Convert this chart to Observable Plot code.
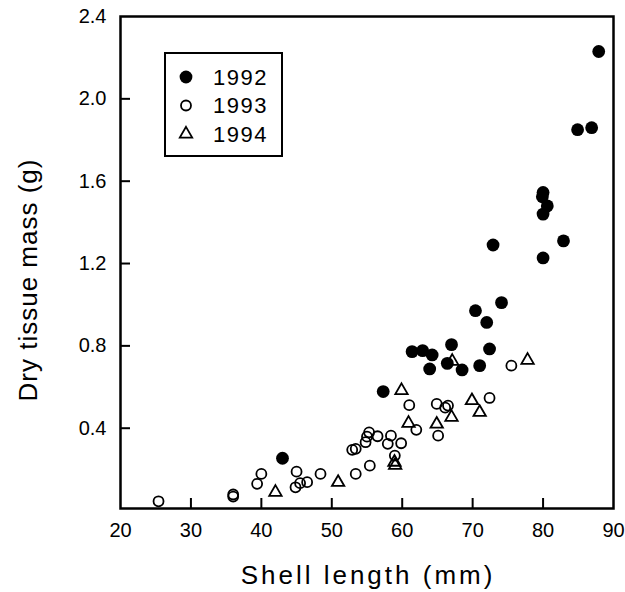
<!DOCTYPE html>
<html><head><meta charset="utf-8">
<script src="https://cdn.jsdelivr.net/npm/d3@7"></script>
<script src="https://cdn.jsdelivr.net/npm/@observablehq/plot@0.6"></script>
<style>
body{margin:0;background:#fff;}
#chart{position:relative;width:625px;height:592px;}
svg{font-family:"Liberation Sans",Arial,sans-serif;}
</style></head><body><div id="chart"></div>
<script>
// Data
const len1992 = [43.0, 57.3, 61.4, 62.9, 63.9, 64.25, 66.4, 67.0, 68.5, 70.4, 71.0, 72.0, 72.4, 72.9, 74.1, 80.0, 79.9, 80.6, 80.0, 80.0, 82.9, 84.9, 86.9, 87.9];
const mass1992 = [0.254, 0.578, 0.772, 0.777, 0.688, 0.756, 0.715, 0.806, 0.683, 0.971, 0.704, 0.914, 0.785, 1.29, 1.01, 1.545, 1.524, 1.48, 1.44, 1.227, 1.31, 1.85, 1.86, 2.23];
const len1993 = [25.4, 36.0, 36.0, 39.4, 40.0, 44.85, 45.0, 45.5, 46.5, 48.4, 52.9, 53.4, 53.4, 54.8, 55.0, 55.3, 55.4, 56.5, 57.95, 58.4, 58.95, 59.85, 61.0, 62.0, 64.9, 65.1, 66.1, 66.5, 72.4, 75.5];
const mass1993 = [0.045, 0.078, 0.068, 0.13, 0.178, 0.113, 0.189, 0.133, 0.138, 0.178, 0.295, 0.30, 0.178, 0.332, 0.359, 0.38, 0.218, 0.361, 0.324, 0.364, 0.267, 0.327, 0.512, 0.392, 0.518, 0.364, 0.50, 0.51, 0.547, 0.704];
const len1994 = [42.0, 50.9, 58.9, 59.0, 59.9, 60.9, 64.9, 67.0, 67.1, 69.9, 71.0, 77.8];
const mass1994 = [0.089, 0.137, 0.235, 0.22, 0.583, 0.424, 0.42, 0.453, 0.725, 0.534, 0.477, 0.73];
const years = ["1992", "1993", "1994"];
const xTickLabels = [20, 30, 40, 50, 60, 70, 80, 90];
const yTickLabels = [0.4, 0.8, 1.2, 1.6, 2.0, 2.4];
const xLabel = "Shell length (mm)";
const yLabel = "Dry tissue mass (g)";

const toRows = (xs, ys, year) => xs.map((x, i) => ({x, y: ys[i], year}));
const d92 = toRows(len1992, mass1992, "1992");
const d93 = toRows(len1993, mass1993, "1993");
const d94 = toRows(len1994, mass1994, "1994");

const W = 625, H = 592;
const mL = 120, mR = 12, mT = 16, mB = 84;
const frameW = W - mL - mR, frameH = H - mT - mB;
const tickLen = 10;
const plot = Plot.plot({
  width: W, height: H,
  marginLeft: mL, marginRight: mR, marginTop: mT, marginBottom: mB,
  style: {fontFamily: '"Liberation Sans", Arial, sans-serif', background: "white", color: "black"},
  x: {domain: [20, 90]},
  y: {domain: [0.01, 2.4]},
  marks: [
    Plot.axisX({ticks: xTickLabels, tickSize: 0, tickPadding: 14, fontSize: 20, tickFormat: d => String(d), label: null}),
    Plot.axisY({ticks: yTickLabels, tickSize: 0, tickPadding: 14, fontSize: 20, tickFormat: d => d.toFixed(1), label: null}),
    // inward tick marks
    Plot.tickX(xTickLabels.slice(1, -1), {x: d => d, insetTop: frameH - tickLen, stroke: "black", strokeWidth: 2}),
    Plot.tickY(yTickLabels.slice(0, -1), {y: d => d, insetRight: frameW - tickLen, stroke: "black", strokeWidth: 2}),
    Plot.frame({stroke: "black", strokeWidth: 2.5}),
    Plot.dot(d94, {x: "x", y: "y", symbol: "triangle", r: 4.6, stroke: "black", strokeWidth: 1.8, fill: "none"}),
    Plot.dot(d93, {x: "x", y: "y", symbol: "circle", r: 5, stroke: "black", strokeWidth: 1.8, fill: "none"}),
    Plot.dot(d92, {x: "x", y: "y", symbol: "circle", r: 6.4, fill: "black", stroke: "none"})
  ]
});
document.getElementById("chart").appendChild(plot);

const svg = d3.select(plot);

// axis titles
svg.append("text")
  .attr("x", 368).attr("y", 584)
  .attr("text-anchor", "middle")
  .attr("font-size", 26).attr("letter-spacing", 3)
  .attr("fill", "black")
  .text(xLabel);
svg.append("text")
  .attr("transform", "translate(37,280) rotate(-90)")
  .attr("text-anchor", "middle")
  .attr("font-size", 26).attr("letter-spacing", 1)
  .attr("fill", "black")
  .text(yLabel);

// legend
const lg = svg.append("g");
lg.append("rect").attr("x", 165).attr("y", 53).attr("width", 117).attr("height", 103)
  .attr("fill", "white").attr("stroke", "black").attr("stroke-width", 2);
const symFns = [
  g => g.append("circle").attr("r", 6.4).attr("fill", "black"),
  g => g.append("circle").attr("r", 5).attr("fill", "none").attr("stroke", "black").attr("stroke-width", 1.8),
  g => g.append("path").attr("d", d3.symbol(d3.symbolTriangle, Math.PI * 4.6 * 4.6)()).attr("fill", "none").attr("stroke", "black").attr("stroke-width", 1.8)
];
years.forEach((yr, i) => {
  const g = lg.append("g").attr("transform", `translate(186,${77 + i * 28.5})`);
  symFns[i](g);
  lg.append("text").attr("x", 213).attr("y", 77 + i * 28.5).attr("dy", "0.36em")
    .attr("text-anchor", "start")
    .attr("font-size", 22).attr("letter-spacing", 1.5).attr("fill", "black").text(yr);
});
</script>
</body></html>
